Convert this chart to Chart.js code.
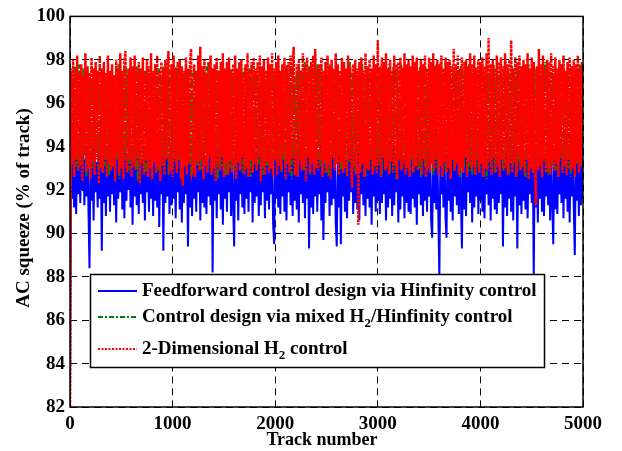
<!DOCTYPE html>
<html>
<head>
<meta charset="utf-8">
<title>AC squeeze</title>
<script src="https://cdn.jsdelivr.net/npm/chart.js@4.4.0/dist/chart.umd.min.js"></script>
<style>
  body { margin: 0; background: #fff; }
  #wrap { width: 622px; height: 451px; }
</style>
</head>
<body>
<div id="wrap"><canvas id="squeeze-chart" width="622" height="451"></canvas></div>
<script>
// One value every 10 tracks
const trackStep = 10;

const xTicks = [0, 1000, 2000, 3000, 4000, 5000];
const yTicks = [82, 84, 86, 88, 90, 92, 94, 96, 98, 100];

const seriesNames = [
    "Feedforward control design via Hinfinity control",
    "Control design via mixed H2/Hinfinity control",
    "2-Dimensional H2 control"
];

// Feedforward / Hinfinity (blue)
const hinfValues = [
    82,
    93.8, 91.6, 94.1, 91.2, 93.5, 90.9, 93.9, 91.8, 94.2, 91.4,
    93.6, 92.0, 94.0, 91.3, 93.4, 91.7, 94.3, 91.1, 88.4, 93.7,
    91.5, 93.9, 90.6, 94.1, 91.9, 93.3, 91.2, 94.0, 91.6, 93.8,
    89.2, 94.2, 91.4, 93.5, 90.8, 93.9, 91.7, 94.1, 91.0, 93.6,
    91.8, 94.3, 91.3, 93.7, 90.5, 94.0, 91.6, 93.4, 91.9, 94.2,
    91.1, 93.8, 90.7, 94.1, 91.5, 93.6, 92.0, 94.3, 91.2, 93.5,
    90.4, 93.9, 91.7, 94.0, 91.3, 93.7, 90.9, 94.2, 91.8, 93.4,
    91.4, 94.1, 90.6, 93.8, 91.9, 93.5, 91.0, 94.3, 91.6, 93.9,
    90.8, 94.0, 91.5, 93.6, 91.2, 94.2, 90.3, 93.7, 91.8, 94.1,
    89.2, 93.8, 91.4, 94.0, 91.7, 93.5, 90.9, 94.2, 91.3, 93.9,
    91.6, 93.6, 90.7, 94.1, 91.9, 93.4, 91.1, 94.3, 90.5, 93.8,
    91.4, 94.0, 91.8, 93.7, 89.4, 94.2, 91.2, 93.5, 90.8, 94.1,
    91.6, 93.9, 91.0, 93.6, 91.9, 94.3, 90.6, 93.8, 91.4, 94.0,
    91.2, 93.5, 90.9, 94.2, 91.7, 93.7, 91.3, 94.0, 88.2, 93.9,
    91.5, 94.1, 90.7, 93.6, 91.8, 94.3, 91.1, 93.8, 90.4, 94.0,
    91.6, 93.5, 91.0, 94.2, 91.9, 93.7, 90.8, 94.1, 91.3, 89.4,
    93.9, 91.5, 94.0, 90.6, 93.6, 91.8, 94.2, 91.2, 93.8, 90.9,
    94.1, 91.6, 93.5, 91.0, 94.3, 91.9, 93.7, 90.5, 94.0, 91.4,
    93.8, 91.7, 94.2, 90.8, 93.6, 91.3, 94.1, 91.9, 93.5, 90.7,
    94.0, 91.5, 93.9, 91.1, 94.3, 91.8, 93.6, 90.4, 89.5, 94.1,
    91.6, 93.7, 91.2, 94.0, 90.9, 93.8, 91.7, 94.2, 91.0, 93.5,
    90.6, 94.1, 91.9, 93.6, 91.3, 94.3, 90.8, 93.9, 91.5, 94.0,
    91.1, 93.7, 90.5, 94.2, 91.8, 93.5, 91.4, 94.1, 90.7, 93.8,
    91.6, 94.0, 89.3, 93.6, 91.2, 94.3, 90.9, 93.9, 91.7, 94.1,
    91.0, 93.5, 91.8, 94.2, 90.6, 93.7, 89.7, 94.0, 91.4, 93.8,
    91.9, 94.1, 90.8, 93.6, 91.3, 94.3, 91.6, 93.9, 90.5, 89.4,
    93.7, 91.2, 94.0, 89.5, 93.8, 91.7, 94.2, 91.0, 93.5, 90.7,
    94.1, 91.5, 93.9, 91.9, 94.3, 90.9, 93.6, 91.4, 94.0, 91.1,
    93.8, 90.6, 94.2, 91.8, 93.5, 91.3, 94.1, 90.8, 93.7, 91.6,
    94.0, 91.2, 93.9, 90.4, 94.3, 91.7, 93.6, 91.0, 94.1, 91.5,
    93.8, 90.9, 94.2, 91.4, 93.5, 91.8, 94.0, 90.6, 93.7, 91.2,
    94.3, 91.6, 93.9, 90.8, 94.1, 91.3, 93.6, 91.9, 94.0, 90.5,
    93.8, 91.1, 94.2, 91.7, 93.5, 90.7, 94.1, 91.4, 93.9, 91.0,
    94.3, 90.9, 93.7, 91.6, 94.0, 91.2, 93.6, 90.4, 94.2, 91.8,
    93.9, 91.3, 94.1, 90.8, 93.5, 91.5, 94.3, 91.0, 93.8, 91.7,
    94.0, 90.6, 89.8, 93.7, 91.4, 94.2, 91.1, 93.9, 90.9, 88.0,
    93.6, 91.8, 94.1, 91.2, 93.8, 90.7, 89.8, 94.3, 91.5, 93.5,
    91.0, 94.0, 90.6, 93.9, 91.7, 94.2, 91.3, 93.6, 90.9, 94.1,
    91.6, 89.3, 93.8, 91.1, 94.3, 90.8, 93.5, 91.9, 94.0, 91.4,
    93.7, 90.5, 94.2, 91.2, 93.9, 91.7, 94.1, 90.9, 93.6, 91.5,
    94.3, 91.0, 93.8, 90.7, 94.0, 91.8, 93.5, 91.3, 94.2, 90.6,
    93.9, 91.6, 94.1, 91.1, 93.7, 90.9, 94.3, 91.4, 93.6, 91.8,
    94.0, 89.4, 93.8, 91.2, 94.2, 90.8, 93.5, 91.6, 94.1, 91.0,
    93.9, 90.6, 94.3, 91.7, 93.6, 89.3, 94.0, 91.3, 93.8, 90.9,
    94.2, 91.5, 93.7, 91.1, 94.1, 90.7, 93.5, 91.8, 94.3, 91.4,
    93.9, 88.0, 94.0, 91.2, 93.6, 90.5, 94.2, 91.6, 93.8, 91.0,
    94.1, 90.8, 93.5, 91.7, 94.3, 91.3, 93.9, 90.6, 94.0, 91.5,
    89.5, 93.7, 91.1, 94.2, 90.9, 93.6, 91.8, 94.1, 91.4, 93.8,
    90.7, 94.3, 91.6, 93.5, 91.0, 94.0, 90.5, 93.9, 91.7, 94.2,
    91.2, 89.0, 93.6, 91.5, 94.1, 90.8, 93.8, 91.3, 94.0, 91.6
];

// Mixed H2/Hinfinity (green)
const mixedValues = [
    82,
    97.6, 93.4, 97.2, 93.8, 97.7, 93.1, 97.4, 92.9, 97.8, 93.5,
    97.3, 93.2, 97.6, 93.9, 97.5, 92.6, 97.7, 93.3, 97.2, 93.6,
    97.8, 93.0, 97.4, 93.4, 97.6, 93.7, 97.3, 92.8, 97.7, 93.2,
    97.5, 93.5, 97.8, 93.1, 97.2, 93.6, 97.6, 92.7, 97.4, 93.3,
    97.7, 93.8, 97.3, 93.0, 97.6, 93.4, 97.8, 92.5, 97.5, 93.6,
    97.2, 93.1, 97.7, 93.4, 97.6, 93.9, 97.3, 92.9, 97.8, 93.2,
    97.5, 93.6, 97.4, 93.0, 97.7, 92.4, 97.6, 93.3, 97.2, 93.7,
    97.8, 93.1, 97.5, 92.8, 97.6, 93.4, 97.3, 93.5, 97.7, 93.0,
    97.4, 93.6, 97.8, 93.2, 97.5, 92.9, 97.6, 93.5, 97.3, 93.1,
    97.7, 93.4, 97.4, 93.8, 97.6, 92.7, 97.5, 93.3, 97.8, 93.0,
    97.2, 93.6, 97.7, 93.1, 97.9, 93.4, 97.5, 92.8, 97.6, 93.3,
    97.3, 93.7, 97.8, 93.0, 97.5, 93.5, 97.6, 92.6, 97.4, 93.2,
    97.7, 93.6, 97.3, 93.1, 97.8, 93.4, 97.5, 92.9, 97.6, 93.3,
    97.4, 93.7, 97.7, 93.0, 97.9, 93.5, 97.3, 92.8, 97.6, 93.2,
    97.5, 93.4, 97.8, 92.5, 97.4, 93.6, 97.7, 93.1, 97.6, 93.3,
    97.2, 92.7, 97.8, 93.5, 97.5, 93.0, 97.6, 93.4, 97.3, 92.9,
    97.7, 93.6, 97.5, 93.2, 97.8, 93.5, 97.4, 92.8, 97.6, 93.1,
    97.7, 93.4, 97.3, 93.0, 97.6, 92.6, 97.8, 93.3, 97.5, 93.6,
    97.4, 92.9, 97.7, 93.2, 97.6, 93.5, 97.3, 92.7, 97.8, 93.4,
    97.5, 93.1, 97.6, 93.6, 97.4, 93.0, 97.7, 93.3, 97.5, 93.8,
    97.6, 93.2, 97.9, 93.5, 97.3, 92.8, 97.7, 93.4, 97.5, 93.0,
    97.8, 93.6, 97.4, 93.1, 97.6, 92.5, 97.7, 93.3, 97.2, 93.7,
    97.5, 93.0, 97.8, 93.4, 97.3, 93.6, 97.6, 92.9, 97.9, 93.2,
    97.4, 93.5, 97.7, 92.7, 97.6, 93.3, 97.5, 93.8, 97.3, 93.0,
    97.8, 93.4, 97.5, 93.1, 97.7, 93.6, 97.2, 92.8, 97.6, 93.5,
    97.3, 92.6, 97.8, 93.2, 97.5, 93.7, 97.6, 93.0, 97.4, 93.3,
    97.7, 93.5, 97.3, 92.9, 97.8, 93.1, 97.6, 93.4, 97.5, 92.7,
    97.6, 93.3, 97.9, 93.6, 97.4, 93.0, 97.7, 92.8, 97.5, 93.4,
    97.2, 93.7, 97.6, 93.1, 97.8, 93.5, 97.3, 92.6, 97.7, 93.2,
    97.5, 93.0, 97.4, 93.4, 97.6, 92.9, 97.8, 93.6, 97.3, 93.1,
    97.7, 93.3, 97.5, 92.7, 97.9, 93.5, 97.6, 93.0, 97.4, 93.4,
    97.8, 92.8, 97.3, 93.6, 97.7, 93.2, 97.5, 92.5, 97.6, 93.3,
    97.4, 93.5, 97.8, 93.0, 97.6, 93.7, 97.2, 93.1, 97.7, 92.9,
    97.5, 93.4, 97.6, 92.8, 97.9, 93.2, 97.4, 93.6, 97.5, 93.0,
    97.7, 92.6, 97.3, 93.5, 97.8, 93.1, 97.6, 92.9, 97.4, 93.7,
    97.6, 93.2, 97.5, 92.7, 97.7, 93.4, 97.8, 93.0, 97.3, 93.5,
    97.9, 93.1, 97.4, 93.6, 97.6, 92.8, 97.5, 93.3, 97.7, 93.0,
    97.3, 93.5, 97.8, 92.9, 97.6, 93.2, 97.4, 93.7, 97.5, 92.6,
    97.7, 93.4, 97.5, 93.0, 97.9, 93.6, 97.3, 92.8, 97.8, 93.1,
    97.6, 92.7, 97.4, 93.5, 97.7, 93.2, 97.6, 92.9, 97.5, 93.6,
    97.8, 93.0, 97.3, 93.4, 97.6, 92.5, 97.7, 93.3, 97.4, 93.1,
    97.5, 93.6, 97.8, 92.8, 97.6, 93.5, 97.2, 93.0, 97.7, 93.4,
    97.4, 92.9, 97.6, 93.2, 97.9, 93.7, 97.5, 92.7, 97.3, 93.5,
    97.7, 93.1, 97.5, 93.6, 97.8, 92.8, 97.6, 93.3, 97.4, 93.0,
    97.6, 93.4, 97.3, 92.6, 97.7, 93.5, 97.8, 93.1, 97.5, 93.2,
    97.8, 92.8, 97.6, 93.4, 97.4, 93.0, 97.7, 93.6, 97.3, 92.9,
    97.5, 93.3, 97.9, 93.1, 97.6, 92.7, 97.4, 93.5, 97.8, 93.0,
    97.3, 93.6, 97.7, 92.9, 97.5, 93.2, 97.6, 93.4, 97.7, 92.8,
    97.6, 93.1, 97.4, 93.5, 97.8, 93.0, 97.5, 92.6, 97.7, 93.3,
    97.4, 93.6, 97.6, 93.2, 97.5, 92.9, 97.8, 93.4, 97.6, 94.0
];

// 2-D H2 (red)
const h2Values = [
    82,
    97.5, 93.2, 98.0, 92.6, 97.6, 93.5, 98.2, 92.9, 97.4, 93.1,
    97.8, 92.4, 97.3, 93.6, 98.3, 92.8, 97.7, 93.0, 97.4, 92.5,
    98.1, 93.3, 97.6, 92.7, 97.9, 93.4, 97.5, 92.3, 98.2, 93.0,
    97.6, 92.8, 97.9, 93.5, 97.4, 92.6, 98.2, 93.2, 97.5, 92.9,
    97.8, 93.1, 97.3, 92.4, 98.0, 93.6, 97.6, 92.7, 98.3, 93.0,
    97.5, 92.5, 97.9, 98.4, 93.3, 92.8, 97.6, 93.4, 98.1, 92.6,
    97.7, 93.1, 98.2, 92.9, 97.5, 93.5, 97.9, 92.3, 97.6, 93.2,
    98.1, 92.7, 97.4, 93.4, 98.0, 92.6, 97.7, 93.0, 98.3, 92.5,
    97.5, 93.3, 97.8, 92.8, 98.2, 93.1, 97.4, 92.4, 97.9, 93.2,
    97.6, 92.7, 98.0, 93.4, 97.5, 98.4, 92.9, 93.0, 97.8, 92.6,
    98.2, 93.3, 97.6, 92.8, 97.9, 93.5, 98.0, 92.5, 97.7, 92.2,
    97.5, 93.1, 98.1, 92.7, 97.6, 93.2, 97.9, 98.5, 92.8, 93.0,
    97.8, 92.6, 97.5, 93.3, 98.2, 92.9, 98.6, 93.4, 97.7, 92.5,
    98.0, 93.1, 97.4, 92.8, 97.9, 93.5, 98.2, 92.7, 97.6, 93.0,
    97.8, 92.4, 98.1, 93.3, 97.5, 92.9, 97.9, 93.6, 98.3, 92.6,
    97.6, 93.2, 97.9, 92.7, 98.1, 93.4, 97.5, 92.8, 97.8, 93.1,
    98.2, 92.5, 97.6, 93.3, 97.9, 92.9, 98.0, 93.5, 97.4, 92.7,
    97.8, 93.0, 98.3, 92.6, 97.5, 93.4, 97.9, 92.8, 98.1, 93.2,
    97.6, 92.9, 97.9, 93.5, 98.2, 92.4, 97.7, 93.1, 98.0, 92.7,
    97.5, 93.3, 98.1, 92.8, 97.8, 93.0, 98.3, 92.6, 97.6, 93.4,
    97.9, 92.7, 98.2, 93.1, 97.5, 92.9, 97.8, 93.6, 98.1, 92.5,
    97.7, 93.2, 97.9, 92.8, 98.2, 93.4, 97.6, 98.6, 92.7, 93.0,
    97.8, 92.6, 98.0, 93.3, 97.5, 92.9, 98.3, 93.1, 97.7, 92.4,
    98.1, 93.5, 97.6, 92.8, 97.9, 93.2, 98.2, 92.7, 98.5, 93.0,
    97.6, 92.9, 97.8, 93.4, 98.1, 92.6, 97.5, 93.3, 97.9, 92.8,
    98.2, 93.1, 97.7, 92.5, 98.0, 93.5, 97.6, 92.9, 98.3, 93.2,
    97.8, 92.7, 97.5, 93.3, 98.1, 92.8, 97.9, 93.0, 97.6, 92.6,
    98.2, 93.4, 97.7, 92.9, 92.1, 97.8, 93.1, 98.0, 92.7, 97.6,
    90.4, 97.9, 92.8, 98.1, 93.2, 97.5, 92.6, 98.3, 93.0, 97.7,
    92.9, 98.0, 93.4, 97.6, 92.7, 98.2, 93.1, 97.8, 92.8, 98.9,
    93.2, 97.7, 92.6, 98.1, 93.5, 97.9, 92.9, 98.3, 93.0, 97.6,
    92.7, 98.0, 93.3, 97.5, 92.8, 98.2, 93.1, 97.8, 92.5, 97.9,
    93.4, 98.1, 92.9, 97.6, 93.2, 98.3, 92.7, 97.8, 93.0, 98.0,
    92.6, 97.7, 93.5, 98.2, 92.8, 97.9, 93.1, 98.1, 92.9, 97.5,
    93.3, 98.0, 92.7, 97.8, 93.4, 98.2, 92.6, 97.6, 93.0, 98.1,
    92.8, 97.9, 93.2, 98.3, 92.9, 97.7, 93.5, 98.0, 92.7, 97.8,
    93.1, 98.2, 92.6, 97.6, 93.3, 98.1, 92.8, 97.9, 93.0, 98.0,
    92.5, 97.7, 93.4, 98.5, 92.9, 97.8, 93.2, 98.2, 92.7, 97.6,
    93.0, 98.1, 92.8, 97.9, 93.5, 98.0, 92.6, 97.7, 93.3, 98.3,
    92.9, 97.8, 93.1, 98.2, 92.7, 97.6, 93.4, 98.0, 92.8, 97.9,
    93.2, 98.1, 92.6, 97.7, 93.0, 98.3, 92.9, 99.0, 93.3, 97.8,
    92.7, 98.0, 93.5, 97.6, 92.8, 98.2, 93.1, 97.9, 92.6, 98.1,
    93.4, 97.7, 92.9, 98.3, 93.0, 97.8, 92.7, 98.0, 93.2, 98.9,
    92.8, 97.6, 93.3, 98.1, 92.6, 97.9, 93.5, 98.2, 92.9, 97.7,
    93.1, 98.0, 92.7, 97.8, 93.4, 98.3, 92.5, 97.6, 93.0, 98.1,
    92.8, 97.9, 93.2, 91.3, 97.7, 92.9, 98.5, 93.1, 97.8, 92.6,
    98.2, 93.4, 97.6, 92.8, 98.0, 93.0, 97.9, 92.7, 98.3, 93.3,
    97.7, 92.9, 98.1, 93.2, 97.6, 92.6, 98.0, 93.5, 97.8, 92.8,
    98.2, 93.1, 97.5, 92.7, 97.9, 93.4, 98.1, 92.9, 97.7, 93.0,
    98.0, 92.6, 97.8, 93.3, 98.2, 92.8, 97.6, 93.1, 97.9, 96.5
];

const FONT = "'Liberation Serif', 'Times New Roman', serif";

function toPoints(values) {
    return values.map((v, i) => ({ x: i * trackStep, y: v }));
}

// Draws the box round the plot, axis titles and the MATLAB style legend
const matlabDecor = {
    id: 'matlabDecor',
    afterDatasetsDraw(chart) {
        const ctx = chart.ctx;
        const a = chart.chartArea;
        ctx.save();

        // legend box
        const lx = 90.5, ly = 274.5, lw = 454, lh = 93;
        ctx.fillStyle = '#fff';
        ctx.fillRect(lx, ly, lw, lh);
        ctx.strokeStyle = '#000';
        ctx.lineWidth = 1.5;
        ctx.strokeRect(lx, ly, lw, lh);

        const rows = [291, 317, 349];
        const styles = [
            { color: '#0000ff', dash: [] },
            { color: '#008000', dash: [5, 2, 2, 2] },
            { color: '#ff0000', dash: [2, 1.5] }
        ];
        rows.forEach((y, i) => {
            ctx.beginPath();
            ctx.setLineDash(styles[i].dash);
            ctx.strokeStyle = styles[i].color;
            ctx.lineWidth = 2;
            ctx.moveTo(98, y);
            ctx.lineTo(137, y);
            ctx.stroke();
        });
        ctx.setLineDash([]);

        ctx.fillStyle = '#000';
        ctx.textBaseline = 'middle';
        ctx.textAlign = 'left';
        const big = 'bold 19px ' + FONT;
        const small = 'bold 13px ' + FONT;

        // writes text with "H2" subscripts
        function subText(parts, x, y) {
            parts.forEach(p => {
                ctx.font = p.sub ? small : big;
                ctx.fillText(p.t, x, p.sub ? y + 7 : y);
                x += ctx.measureText(p.t).width;
            });
        }
        subText([{ t: seriesNames[0] }], 142, rows[0]);
        subText([{ t: 'Control design via mixed H' }, { t: '2', sub: true }, { t: '/Hinfinity control' }], 142, rows[1]);
        subText([{ t: '2-Dimensional H' }, { t: '2', sub: true }, { t: ' control' }], 142, rows[2]);

        // axes frame
        ctx.strokeStyle = '#000';
        ctx.lineWidth = 1.5;
        ctx.strokeRect(a.left, a.top, a.right - a.left, a.bottom - a.top);

        // axis titles
        ctx.textAlign = 'center';
        ctx.font = 'bold 18px ' + FONT;
        ctx.fillText('Track number', 322, 440);
        ctx.font = 'bold 19px ' + FONT;
        ctx.translate(24, 208);
        ctx.rotate(-Math.PI / 2);
        ctx.fillText('AC squeeze (% of track)', 0, 0);
        ctx.restore();
    }
};

const gridDash = [7, 5];

new Chart(document.getElementById('squeeze-chart').getContext('2d'), {
    type: 'line',
    data: {
        datasets: [
            {
                label: seriesNames[0],
                data: toPoints(hinfValues),
                borderColor: '#0000ff',
                borderWidth: 2,
                order: 3
            },
            {
                label: seriesNames[1],
                data: toPoints(mixedValues),
                borderColor: '#008000',
                borderWidth: 2,
                borderDash: [5, 2, 2, 2],
                order: 2
            },
            {
                label: seriesNames[2],
                data: toPoints(h2Values),
                borderColor: '#ff0000',
                borderWidth: 2.5,
                borderDash: [3, 1],
                order: 1
            }
        ]
    },
    options: {
        responsive: false,
        animation: false,
        elements: { point: { radius: 0 }, line: { tension: 0 } },
        layout: { padding: { top: 11, right: 39, left: 0, bottom: 0 } },
        plugins: { legend: { display: false }, tooltip: { enabled: false } },
        scales: {
            x: {
                type: 'linear',
                min: xTicks[0],
                max: xTicks[xTicks.length - 1],
                afterBuildTicks: s => { s.ticks = xTicks.map(v => ({ value: v })); },
                afterFit: s => { s.height = 44; },
                grid: { color: '#000', lineWidth: 1, drawTicks: false },
                border: { display: false, dash: gridDash },
                ticks: {
                    color: '#000',
                    padding: 6,
                    maxRotation: 0,
                    callback: v => String(v),
                    font: { family: FONT, size: 19, weight: 'bold' }
                }
            },
            y: {
                min: yTicks[0],
                max: yTicks[yTicks.length - 1],
                afterBuildTicks: s => { s.ticks = yTicks.map(v => ({ value: v })); },
                afterFit: s => { s.width = 70; },
                grid: { color: '#000', lineWidth: 1, drawTicks: false },
                border: { display: false, dash: gridDash },
                ticks: {
                    color: '#000',
                    padding: 5,
                    callback: v => String(v),
                    font: { family: FONT, size: 19, weight: 'bold' }
                }
            }
        }
    },
    plugins: [matlabDecor]
});
</script>
</body>
</html>
